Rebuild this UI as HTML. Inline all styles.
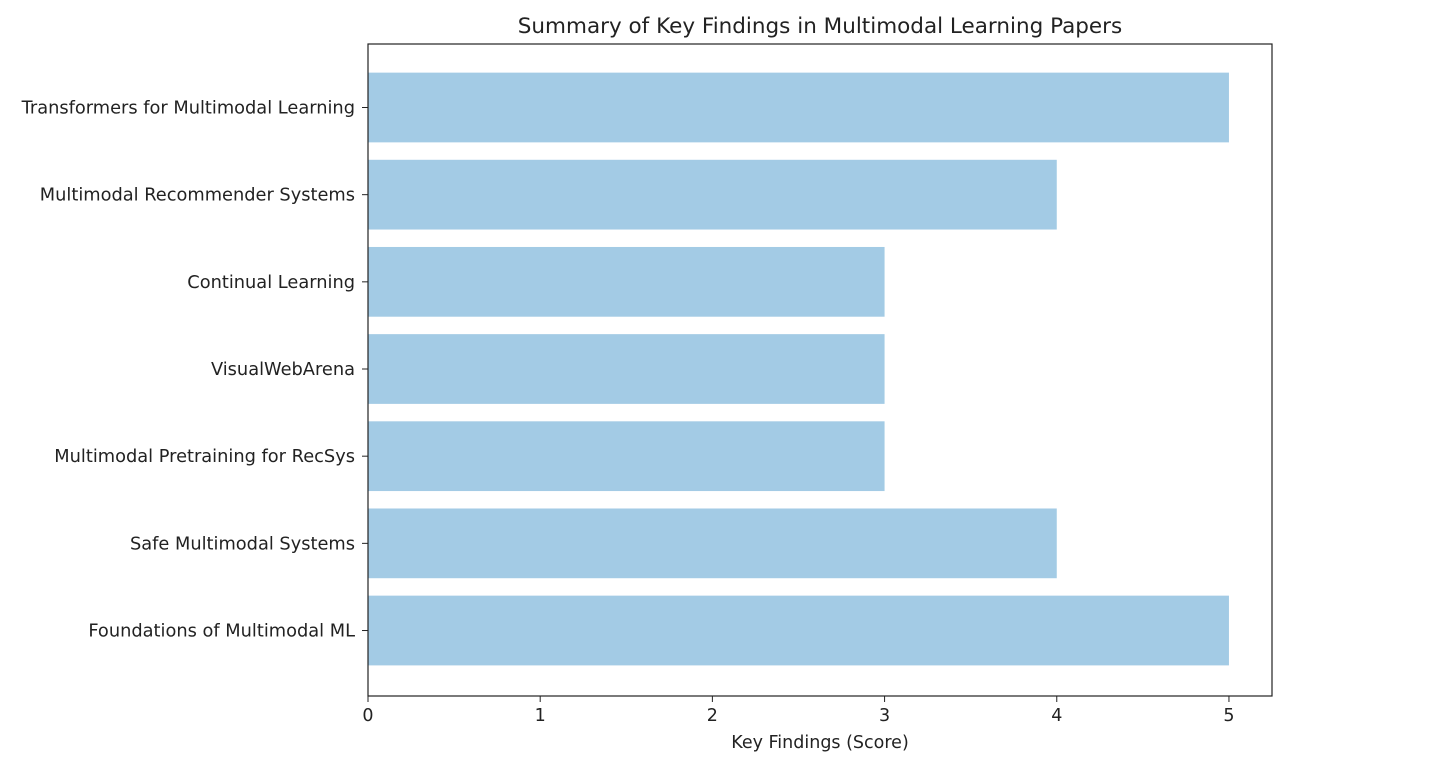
<!DOCTYPE html>
<html><head><meta charset="utf-8"><style>
html,body{margin:0;padding:0;background:#fff;}
svg{display:block;font-family:"DejaVu Sans","Liberation Sans",sans-serif;}
</style></head><body>
<svg id="chart" width="1440" height="770"></svg>
<script>
const categories = ["Transformers for Multimodal Learning","Multimodal Recommender Systems","Continual Learning","VisualWebArena","Multimodal Pretraining for RecSys","Safe Multimodal Systems","Foundations of Multimodal ML"];
const scores = [5,4,3,3,3,4,5];
const xTicks = [0,1,2,3,4,5];

const NS="http://www.w3.org/2000/svg";
const svg=document.getElementById('chart');
const L=368,R=1272,T=44,B=696;
const xMax=5.25;
const xs=v=>L+(v/xMax)*(R-L);
const step=87.17, firstC=107.5;
const ys=i=>firstC+i*step;
function mk(tag,attrs,text){const e=document.createElementNS(NS,tag);for(const k in attrs)e.setAttribute(k,attrs[k]);if(text!==undefined)e.textContent=text;svg.appendChild(e);return e;}

const title=mk('text',{x:(L+R)/2,y:33,'text-anchor':'middle','font-size':21.5,fill:'#222'},'Summary of Key Findings in Multimodal Learning Papers');



categories.forEach((c,i)=>{
  const yc=ys(i);
  const bar=mk('rect',{x:xs(0),y:yc-0.4*step,width:xs(scores[i])-xs(0),height:0.8*step,fill:'#a3cbe5'});
  
  
  const t=mk('line',{x1:L-6,x2:L,y1:yc,y2:yc,stroke:'#222','stroke-width':1});
  
  
  const lab=mk('text',{x:L-13,y:yc+6,'text-anchor':'end','font-size':17.8,fill:'#222'},c);
  
  
});

xTicks.forEach(v=>{
  const t=mk('line',{x1:xs(v),x2:xs(v),y1:B,y2:B+6,stroke:'#222','stroke-width':1});
  
  
  const lab=mk('text',{x:xs(v),y:B+25,'text-anchor':'middle','font-size':17.5,fill:'#222'},String(v));
  
  
});

const frame=mk('rect',{x:L,y:T,width:R-L,height:B-T,fill:'none',stroke:'#222','stroke-width':1.2});



const xt=mk('text',{x:(L+R)/2,y:748,'text-anchor':'middle','font-size':17.5,fill:'#222'},'Key Findings (Score)');


</script>
</body></html>
